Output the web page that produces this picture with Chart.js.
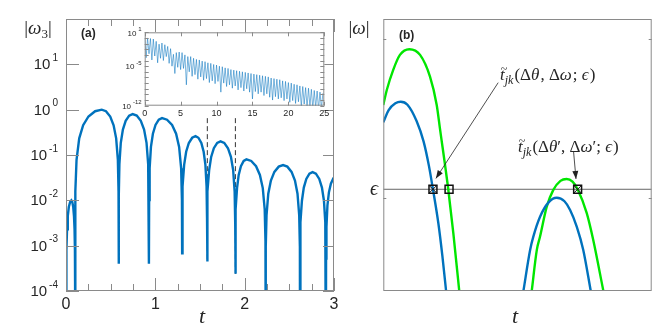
<!DOCTYPE html>
<html>
<head>
<meta charset="utf-8">
<script src="https://cdn.jsdelivr.net/npm/chart.js@4/dist/chart.umd.min.js"></script>
<style>
  html, body { margin: 0; padding: 0; background: #fff; }
  #wrap { position: relative; width: 664px; height: 331px; overflow: hidden; }
  canvas { position: absolute; }
</style>
</head>
<body>
<div id="wrap">
  <canvas id="left" width="340" height="331" style="left:0;top:0"></canvas>
  <canvas id="inset" width="214" height="97" style="left:120px;top:25px"></canvas>
  <canvas id="right" width="324" height="331" style="left:340px;top:0"></canvas>
</div>
<script>
// panel (a): |w3| vs t, read hump by hump
const mainT = [
  0.003, 0.0036, 0.0059, 0.0116, 0.020, 0.0315, 0.046, 0.060, 0.0705, 0.081, 0.0894, 0.0957, 0.0999, 0.1016, 0.103,
  0.106, 0.118, 0.148, 0.192, 0.2515, 0.326, 0.400, 0.4475, 0.495, 0.533, 0.5615, 0.5805, 0.5881, 0.590,
  0.5916, 0.5978, 0.6134, 0.6368, 0.668, 0.707, 0.746, 0.7918, 0.8375, 0.8741, 0.9014, 0.9198, 0.9272, 0.929,
  0.9305, 0.9363, 0.9509, 0.9728, 1.002, 1.0385, 1.075, 1.131, 1.1875, 1.2325, 1.2663, 1.2888, 1.2978, 1.300,
  1.3015, 1.3075, 1.3225, 1.345, 1.375, 1.4125, 1.45, 1.4825, 1.515, 1.541, 1.5605, 1.5735, 1.5787, 1.580,
  1.5815, 1.5875, 1.6025, 1.625, 1.655, 1.6925, 1.73, 1.7715, 1.813, 1.8462, 1.8711, 1.8877, 1.8943, 1.896,
  1.8972, 1.9022, 1.9146, 1.9332, 1.958, 1.989, 2.02, 2.0738, 2.1275, 2.1705, 2.2028, 2.2243, 2.2329, 2.235,
  2.237, 2.2448, 2.2643, 2.2935, 2.3325, 2.3813, 2.43, 2.4775, 2.525, 2.563, 2.5915, 2.6105, 2.6181, 2.620,
  2.6214, 2.627, 2.641, 2.662, 2.69, 2.725, 2.76, 2.7975, 2.835, 2.865, 2.8875, 2.9025, 2.9085, 2.910,
  2.9111, 2.9155, 2.9265, 2.943, 2.965, 2.9925, 3.0
];
const mainW = [
  1e-6, 1.6e-4, 7.9e-4, 2.3e-3, 4.5e-3, 7.1e-3, 9.2e-3, 1.0e-2, 9.2e-3, 7.1e-3, 4.5e-3, 2.3e-3, 7.9e-4, 1.6e-4, 1e-6,
  0.0157, 0.0785, 0.233, 0.454, 0.707, 0.924, 1.0, 0.924, 0.707, 0.454, 0.233, 0.0785, 0.0157, 4e-4,
  0.0126, 0.0628, 0.186, 0.363, 0.566, 0.739, 0.80, 0.739, 0.566, 0.363, 0.186, 0.0628, 0.0126, 4e-4,
  0.0102, 0.051, 0.151, 0.295, 0.46, 0.60, 0.65, 0.60, 0.46, 0.295, 0.151, 0.051, 0.0102, 6.8e-4,
  0.0041, 0.0204, 0.0606, 0.118, 0.184, 0.240, 0.26, 0.240, 0.184, 0.118, 0.0606, 0.0204, 0.0041, 4.5e-4,
  0.0031, 0.0157, 0.0466, 0.0908, 0.141, 0.185, 0.20, 0.185, 0.141, 0.0908, 0.0466, 0.0157, 0.0031, 2.4e-4,
  0.00126, 0.00628, 0.0186, 0.0363, 0.0566, 0.0739, 0.080, 0.0739, 0.0566, 0.0363, 0.0186, 0.00628, 0.00126, 1e-6,
  0.00094, 0.0047, 0.014, 0.0272, 0.0424, 0.0554, 0.060, 0.0554, 0.0424, 0.0272, 0.014, 0.0047, 0.00094, 1e-6,
  0.00066, 0.0033, 0.0098, 0.0191, 0.0297, 0.0388, 0.042, 0.0388, 0.0297, 0.0191, 0.0098, 0.0033, 0.00066, 1e-6,
  0.00052, 0.0026, 0.0077, 0.015, 0.0233, 0.0305, 0.032
];
// dashed markers in (a)
const dashT = [1.582, 1.896];
const dashTop = [0.65, 0.65];
const dashBottom = [4.5e-4, 2.4e-4];

const mainXLabels = [0, 1, 2, 3];
const mainXMinor = [0.25, 0.5, 0.75, 1.25, 1.5, 1.75, 2.25, 2.5, 2.75];
const mainYExp = [-4, -3, -2, -1, 0, 1];

// inset: log10 of the upper envelope (t = 0, 0.4, ...) and of the dips (t = 0.2, 0.6, ...)
const insetPeakExp = [
  -0.1, 0.0, -0.1, -0.2, -0.6, -1.1, -0.9, -1.2, -1.5, -1.9,
  -2.9, -2.6, -2.5, -2.6, -3.0, -3.3, -3.3, -3.6, -3.8, -3.9,
  -4.1, -4.2, -4.4, -4.5, -4.7, -4.8, -5.0, -5.1, -5.3, -5.4,
  -5.6, -5.7, -5.8, -5.9, -6.0, -6.1, -6.2, -6.3, -6.4, -6.5,
  -6.6, -6.7, -6.8, -6.9, -7.1, -7.2, -7.3, -7.4, -7.6, -7.7,
  -7.9, -8.0, -8.2, -8.3, -8.5, -8.6, -8.8, -8.9, -9.1, -9.3,
  -9.4, -9.6, -9.8
];
const insetDipExp = [
  -3.5, -2.8, -3.9, -3.2, -4.4, -3.6, -4.0, -3.3, -4.5, -5.0,
  -6.3, -5.2, -5.6, -5.4, -8.3, -6.0, -6.8, -6.5, -7.3, -6.9,
  -7.5, -7.2, -7.9, -7.6, -8.1, -7.7, -9.6, -8.0, -8.6, -8.3,
  -8.9, -8.5, -9.2, -8.8, -9.4, -9.0, -9.6, -10.8, -9.5, -9.9,
  -9.6, -10.2, -9.9, -10.5, -11.0, -10.4, -10.8, -10.6, -11.1, -10.8,
  -11.4, -11.1, -11.6, -11.3, -12.2, -11.7, -12.3, -12.1, -12.5, -12.3,
  -12.6, -12.5
];
const insetStep = 0.2;
const insetXLabels = [0, 5, 10, 15, 20, 25];
const insetYLabels = [1, -5, -12];

// panel (b): sketch curves (arbitrary units)
const blue1X = [0, 0.2, 0.45, 0.65, 0.9, 1.24, 1.5, 1.7, 1.85, 2.05, 2.2, 2.34];
const blue1Y = [6.2, 6.65, 6.9, 6.96, 6.85, 6.25, 5.5, 4.6, 3.74, 2.5, 1.3, 0];
const green1X = [0, 0.13, 0.37, 0.62, 0.97, 1.37, 1.74, 1.99, 2.11, 2.42, 2.61, 2.83];
const green1Y = [6.84, 7.39, 8.13, 8.68, 8.89, 8.68, 7.88, 6.84, 5.98, 3.74, 2.12, 0];
const blue2X = [5.22, 5.47, 5.59, 5.84, 6.15, 6.46, 6.75, 6.96, 7.21, 7.45, 7.73];
const blue2Y = [0, 1.51, 2.0, 2.73, 3.25, 3.43, 3.3, 2.98, 2.36, 1.51, 0];
const green2X = [5.53, 5.72, 5.84, 6.09, 6.33, 6.6, 6.83, 7.05, 7.24, 7.58, 7.82, 8.2];
const green2Y = [0, 1.51, 2.0, 3.1, 3.71, 4.05, 4.12, 4.02, 3.74, 2.86, 1.88, 0];
const epsLevel = 3.74;
const boxX = [1.85, 2.45, 7.24];
const crossX = [1.85, 7.24];
const rightYTicks = [9.25, 3.41];

const BLUE = '#0072BD';
const GREEN = '#00E600';
const FRAME = '#8a8a8a';
const TXT = '#262626';
const SANS = '"Liberation Sans", Arial, sans-serif';
const SERIF = '"Liberation Serif", "DejaVu Serif", serif';

const pts = (xs, ys) => xs.map((x, i) => ({ x, y: ys[i] }));

function line(ctx, x1, y1, x2, y2) {
  ctx.beginPath(); ctx.moveTo(x1, y1); ctx.lineTo(x2, y2); ctx.stroke();
}

// draws a row of text pieces: [text, font, dy, tilde]
function drawRuns(ctx, x, y, runs, align) {
  let w = 0;
  runs.forEach(r => { ctx.font = r[1]; w += ctx.measureText(r[0]).width; });
  let cx = align === 'center' ? x - w / 2 : (align === 'right' ? x - w : x);
  ctx.textAlign = 'left';
  ctx.textBaseline = 'alphabetic';
  runs.forEach(r => {
    ctx.font = r[1];
    const rw = ctx.measureText(r[0]).width;
    ctx.fillText(r[0], cx, y + (r[2] || 0));
    if (r[3]) {
      ctx.font = '12px ' + SERIF;
      ctx.textAlign = 'center';
      ctx.fillText('~', cx + rw / 2 + 1.5, y - 7);
      ctx.textAlign = 'left';
    }
    cx += rw + (r[4] || 0);
  });
  return w;
}

function powLabel(ctx, x, y, exp, big, small, rise) {
  ctx.font = small;
  const ew = ctx.measureText(String(exp)).width;
  ctx.textAlign = 'right';
  ctx.textBaseline = 'middle';
  ctx.fillText(String(exp), x, y - rise);
  ctx.font = big;
  ctx.fillText('10', x - ew - 2, y + 1);
}

const leftDecor = {
  id: 'leftDecor',
  afterDraw(chart) {
    const { ctx, chartArea: a, scales: { x, y } } = chart;
    ctx.save();
    ctx.strokeStyle = FRAME;
    ctx.lineWidth = 1;
    ctx.strokeRect(a.left + 0.5, a.top + 0.5, a.right - a.left - 1, a.bottom - a.top - 1);
    mainXLabels.concat(mainXMinor).forEach(v => {
      const px = Math.round(x.getPixelForValue(v)) + 0.5;
      const len = Number.isInteger(v) ? 13 : 7;
      line(ctx, px, a.bottom, px, a.bottom - len);
      line(ctx, px, a.top, px, a.top + len);
    });
    mainYExp.forEach(e => {
      const py = Math.round(y.getPixelForValue(Math.pow(10, e))) + 0.5;
      line(ctx, a.left, py, a.left + 13, py);
      line(ctx, a.right, py, a.right - 11, py);
    });
    ctx.fillStyle = TXT;
    mainYExp.forEach(e => {
      const py = y.getPixelForValue(Math.pow(10, e));
      powLabel(ctx, 58, py, e, '15px ' + SANS, '10px ' + SANS, 6);
    });
    ctx.font = '16px ' + SANS;
    ctx.textAlign = 'center';
    ctx.textBaseline = 'middle';
    mainXLabels.forEach(v => ctx.fillText(String(v), x.getPixelForValue(v), 305));
    ctx.font = 'italic 22px ' + SERIF;
    ctx.fillText('t', 202, 317);
    drawRuns(ctx, 38, 34, [
      ['|', '19px ' + SERIF], ['ω', 'italic 19px ' + SERIF],
      ['3', '13px ' + SERIF, 4], ['|', '19px ' + SERIF]
    ], 'center');
    ctx.font = 'bold 12px ' + SANS;
    ctx.textAlign = 'left';
    ctx.textBaseline = 'middle';
    ctx.fillText('(a)', 81, 34);
    ctx.restore();
  }
};

const dashSets = dashT.map((t, i) => ({
  data: [{ x: t, y: dashTop[i] }, { x: t, y: dashBottom[i] }],
  showLine: true, borderColor: '#333', borderWidth: 1, borderDash: [5, 3], pointRadius: 0
}));

new Chart(document.getElementById('left'), {
  type: 'scatter',
  data: {
    datasets: [
      { data: pts(mainT, mainW), showLine: true, borderColor: BLUE, borderWidth: 2.4, pointRadius: 0, tension: 0 },
      ...dashSets
    ]
  },
  options: {
    responsive: false, animation: false,
    layout: { padding: { left: 66, right: 6, top: 19, bottom: 40 } },
    plugins: { legend: { display: false }, tooltip: { enabled: false } },
    scales: {
      x: { type: 'linear', min: 0, max: 3, display: false },
      y: { type: 'logarithmic', min: 1e-4, max: 100, display: false }
    }
  },
  plugins: [leftDecor]
});

// inset series: envelope tops and dips alternate
const insetData = [];
insetPeakExp.forEach((e, k) => {
  insetData.push({ x: 2 * k * insetStep, y: Math.pow(10, e) });
  if (k < insetDipExp.length) insetData.push({ x: (2 * k + 1) * insetStep, y: Math.pow(10, insetDipExp[k]) });
});

const insetDecor = {
  id: 'insetDecor',
  beforeDraw(chart) {
    const { ctx, chartArea: a } = chart;
    ctx.save();
    ctx.fillStyle = '#fff';
    ctx.fillRect(a.left, a.top, a.right - a.left, a.bottom - a.top);
    ctx.restore();
  },
  afterDraw(chart) {
    const { ctx, chartArea: a, scales: { x, y } } = chart;
    ctx.save();
    ctx.strokeStyle = FRAME;
    ctx.lineWidth = 1;
    ctx.strokeRect(a.left + 0.5, a.top + 0.5, a.right - a.left - 1, a.bottom - a.top - 1);
    insetXLabels.forEach(v => {
      const px = Math.round(x.getPixelForValue(v)) + 0.5;
      line(ctx, px, a.bottom, px, a.bottom - 4);
      line(ctx, px, a.top, px, a.top + 4);
    });
    for (let e = 1; e >= -12; e--) {
      const py = Math.round(y.getPixelForValue(Math.pow(10, e))) + 0.5;
      line(ctx, a.left, py, a.left + 4, py);
      line(ctx, a.right, py, a.right - 4, py);
    }
    ctx.fillStyle = TXT;
    insetYLabels.forEach(e => {
      powLabel(ctx, a.left - 3, y.getPixelForValue(Math.pow(10, e)), e, '8px ' + SANS, '6px ' + SANS, 3);
    });
    ctx.font = '9px ' + SANS;
    ctx.textAlign = 'center';
    ctx.textBaseline = 'middle';
    insetXLabels.forEach(v => ctx.fillText(String(v), x.getPixelForValue(v), a.bottom + 8));
    ctx.restore();
  }
};

new Chart(document.getElementById('inset'), {
  type: 'scatter',
  data: {
    datasets: [
      { data: insetData, showLine: true, borderColor: 'rgba(0,114,189,0.75)', borderWidth: 0.7, pointRadius: 0, tension: 0 }
    ]
  },
  options: {
    responsive: false, animation: false,
    layout: { padding: { left: 24.7, right: 9.7, top: 7.3, bottom: 16.3 } },
    plugins: { legend: { display: false }, tooltip: { enabled: false } },
    scales: {
      x: { type: 'linear', min: 0, max: 25, display: false },
      y: { type: 'logarithmic', min: 1e-12, max: 10, display: false }
    }
  },
  plugins: [insetDecor]
});

function arrow(ctx, x1, y1, x2, y2) {
  line(ctx, x1, y1, x2, y2);
  const ang = Math.atan2(y2 - y1, x2 - x1);
  const L = 8, W = 3;
  ctx.beginPath();
  ctx.moveTo(x2, y2);
  ctx.lineTo(x2 - L * Math.cos(ang) + W * Math.sin(ang), y2 - L * Math.sin(ang) - W * Math.cos(ang));
  ctx.lineTo(x2 - L * Math.cos(ang) - W * Math.sin(ang), y2 - L * Math.sin(ang) + W * Math.cos(ang));
  ctx.closePath();
  ctx.fill();
}

const rightDecor = {
  id: 'rightDecor',
  afterDraw(chart) {
    const { ctx, chartArea: a, scales: { x, y } } = chart;
    ctx.save();
    ctx.strokeStyle = FRAME;
    ctx.lineWidth = 1;
    ctx.strokeRect(a.left + 0.5, a.top + 0.5, a.right - a.left - 1, a.bottom - a.top - 1);
    rightYTicks.forEach(v => {
      const py = Math.round(y.getPixelForValue(v)) + 0.5;
      line(ctx, a.left, py, a.left + 3, py);
      line(ctx, a.right, py, a.right - 3, py);
    });
    ctx.strokeStyle = '#222';
    ctx.fillStyle = '#222';
    ctx.lineWidth = 0.8;
    arrow(ctx, x.getPixelForValue(4.28), y.getPixelForValue(7.66), x.getPixelForValue(1.96), y.getPixelForValue(4.14));
    arrow(ctx, x.getPixelForValue(7.09), y.getPixelForValue(5.11), x.getPixelForValue(7.18), y.getPixelForValue(4.12));
    ctx.fillStyle = TXT;
    const f = '17px ' + SERIF, fi = 'italic 17px ' + SERIF, fs = 'italic 12px ' + SERIF;
    drawRuns(ctx, x.getPixelForValue(4.35), 80, [
      ['t', fi, 0, true], ['jk', fs, 4, false, 1], ['(Δ', f], ['θ', fi, 0, false, 1], [', Δ', f], ['ω', fi, 0, false, 1],
      ['; ', f], ['ϵ', fi, 0, false, 1], [')', f]
    ], 'left');
    drawRuns(ctx, x.getPixelForValue(5.02), 152, [
      ['t', fi, 0, true], ['jk', fs, 4, false, 1], ['(Δ', f], ['θ', fi], ['′, Δ', f], ['ω', fi], ['′; ', f],
      ['ϵ', fi, 0, false, 1], [')', f]
    ], 'left');
    drawRuns(ctx, 359 - 340, 34, [
      ['|', '19px ' + SERIF], ['ω', 'italic 19px ' + SERIF], ['|', '19px ' + SERIF]
    ], 'center');
    ctx.font = 'italic 20px ' + SERIF;
    ctx.textAlign = 'center';
    ctx.textBaseline = 'middle';
    ctx.fillText('ϵ', 374 - 340, y.getPixelForValue(epsLevel));
    ctx.font = 'italic 22px ' + SERIF;
    ctx.fillText('t', 515 - 340, 317);
    ctx.font = 'bold 12px ' + SANS;
    ctx.textAlign = 'left';
    ctx.fillText('(b)', 399 - 340, 36);
    ctx.restore();
  }
};

const curve = (xs, ys, color) => ({
  data: pts(xs, ys), showLine: true, borderColor: color, borderWidth: 2.4,
  pointRadius: 0, cubicInterpolationMode: 'monotone', order: 1
});

new Chart(document.getElementById('right'), {
  type: 'scatter',
  data: {
    datasets: [
      { data: boxX.map(v => ({ x: v, y: epsLevel })), pointStyle: 'rect', pointRadius: 5.6,
        borderColor: '#111', borderWidth: 1.5, backgroundColor: 'rgba(0,0,0,0)', order: 0 },
      { data: crossX.map(v => ({ x: v, y: epsLevel })), pointStyle: 'crossRot', pointRadius: 5.6,
        borderColor: '#111', borderWidth: 1, order: 0 },
      curve(blue1X, blue1Y, BLUE),
      curve(green1X, green1Y, GREEN),
      curve(blue2X, blue2Y, BLUE),
      curve(green2X, green2Y, GREEN),
      { data: [{ x: 0, y: epsLevel }, { x: 10, y: epsLevel }], showLine: true, borderColor: '#666',
        borderWidth: 1, pointRadius: 0, order: 2 }
    ]
  },
  options: {
    responsive: false, animation: false,
    layout: { padding: { left: 43.3, right: 12.3, top: 19, bottom: 40 } },
    plugins: { legend: { display: false }, tooltip: { enabled: false } },
    scales: {
      x: { type: 'linear', min: 0, max: 10, display: false },
      y: { type: 'linear', min: 0, max: 10, display: false }
    }
  },
  plugins: [rightDecor]
});
</script>
</body>
</html>
